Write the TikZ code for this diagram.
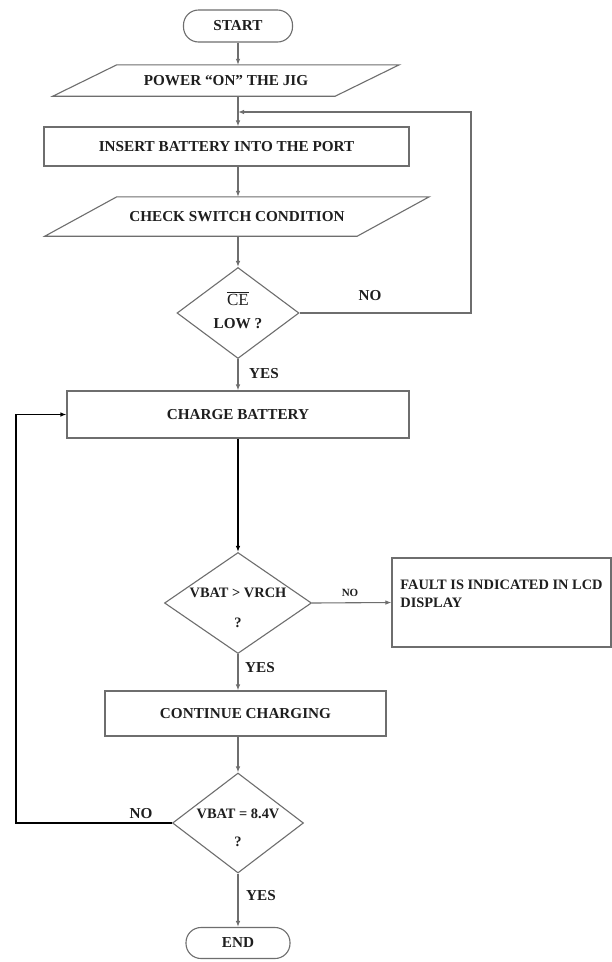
\documentclass[tikz,border=0pt]{standalone}
\usepackage{fontspec}
\setmainfont{Liberation Serif}
\usetikzlibrary{shapes.geometric,arrows.meta,calc}
\definecolor{linegray}{HTML}{6E6E6E}
\definecolor{txt}{HTML}{1E1E1E}
\newcommand\fcfont{\fontsize{15.2}{18}\selectfont\bfseries}
\newcommand\fcfontsm{\fontsize{14.4}{17.5}\selectfont\bfseries}
\tikzset{
 shapeline/.style={draw=linegray, line width=1.1pt},
 term/.style={shapeline, rectangle, rounded corners=15pt, font=\fcfont, text=txt, inner sep=0pt},
 procbox/.style={shapeline, rectangle, font=\fcfont, text=txt, inner sep=0pt},
 iotext/.style={rectangle, font=\fcfont, text=txt, inner sep=0pt},
 decision/.style={shapeline, diamond, font=\fcfont, text=txt, inner sep=-20pt, align=center},
 flow/.style={draw=linegray, line width=1.1pt, -{Latex[length=6pt,width=4.5pt]}},
 flowdark/.style={draw=black, line width=1.6pt, -{Latex[length=6pt,width=4.5pt]}},
 lbl/.style={font=\fcfont, text=txt, inner sep=0pt},
}
\begin{document}
\begin{tikzpicture}[x=1pt,y=-1pt]
\useasboundingbox[fill=white] (0,0) rectangle (612,962);
% nodes
\node[term, minimum width=109, minimum height=32] (start) at (238,26) {START};
\node[iotext, minimum width=282, minimum height=31] (pow) at (226,80.5) {POWER ``ON'' THE JIG};
\draw[shapeline] ($(pow.south west)+(-32,0)$) -- ($(pow.south east)+(-32,0)$) -- ($(pow.north east)+(32,0)$) -- ($(pow.north west)+(32,0)$) -- cycle;
\node[procbox, minimum width=365, minimum height=39] (ins) at (226.5,146.5) {INSERT BATTERY INTO THE PORT};
\node[iotext, minimum width=312, minimum height=39] (chk) at (237,216.5) {CHECK SWITCH CONDITION};
\draw[shapeline] ($(chk.south west)+(-36,0)$) -- ($(chk.south east)+(-36,0)$) -- ($(chk.north east)+(36,0)$) -- ($(chk.north west)+(36,0)$) -- cycle;
\node[decision, minimum width=122, minimum height=91, aspect=1.34] (ce) at (238,313) {{\fontsize{17}{18}\selectfont$\overline{\mbox{\mdseries CE}}$}\\[5pt]LOW ?\\[-12pt]\mbox{}};
\node[procbox, minimum width=342, minimum height=47] (chg) at (238,414.5) {CHARGE BATTERY};
\node[decision, font=\fcfontsm, minimum width=147, minimum height=101, aspect=1.45] (vr) at (238,603) {\mbox{}\\[2pt]VBAT > VRCH\\[12pt]?};
\node[procbox, font=\fcfontsm, minimum width=219, minimum height=89, align=left] (flt) at (501.5,602.5) {FAULT IS INDICATED IN LCD\\DISPLAY\\\mbox{}};
\node[procbox, minimum width=281, minimum height=45] (cont) at (245.5,713.5) {CONTINUE CHARGING};
\node[decision, font=\fcfontsm, minimum width=131, minimum height=100, aspect=1.31] (eq) at (238,823) {\mbox{}\\[2pt]VBAT = 8.4V\\[10pt]?};
\node[term, minimum width=104, minimum height=31] (end) at (238,943) {END};
% connectors
\draw[flow] (start.south) -- (start.south |- pow.north);
\draw[flow] (start.south |- pow.south) -- (start.south |- ins.north);
\draw[flow] (start.south |- ins.south) -- (start.south |- chk.north);
\draw[flow] (start.south |- chk.south) -- (ce.north);
\draw[flow] (ce.south) -- (chg.north);
\draw[flowdark] (chg.south) -- (vr.north);
\draw[flow] (vr.east) -- (flt.west);
\draw[flow] (vr.south) -- (vr.south |- cont.north);
\draw[flow] (vr.south |- cont.south) -- (eq.north);
\draw[flow] (eq.south) -- (end.north);
\coordinate (jn) at (238,112);
\coordinate (rt) at (471,112);
\draw[flow] (ce.east) -| (rt) -- (jn);
\coordinate (lf) at (16,823);
\draw[flowdark] (eq.west) -- (lf) |- (chg.west);
% labels
\node[lbl] (no1) at (370,296) {NO};
\node[lbl] (yes1) at (264,374) {YES};
\node[lbl, font=\fontsize{11}{13}\selectfont\bfseries] (no2) at (350,593) {NO};
\node[lbl] (yes2) at (260,668) {YES};
\node[lbl] (no3) at (141,814) {NO};
\node[lbl] (yes3) at (261,896) {YES};
\end{tikzpicture}
\end{document}
